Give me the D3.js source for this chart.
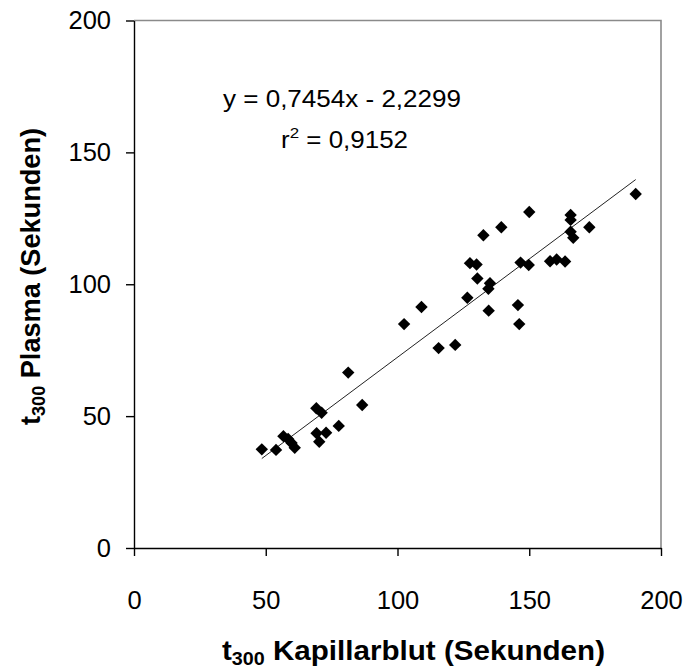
<!DOCTYPE html>
<html>
<head>
<meta charset="utf-8">
<script src="https://cdn.jsdelivr.net/npm/d3@7"></script>
<style>
  html, body { margin: 0; padding: 0; background: #fff; }
  svg { display: block; font-family: "Liberation Sans", Arial, sans-serif; }
</style>
</head>
<body>
<svg id="chart" width="686" height="671"></svg>
<script>
// t300 in capillary blood (x) vs plasma (y), seconds
const kapillarblut = [48.5, 53.9, 56.7, 58.5, 59.8, 61.0, 69.2, 71.2, 69.3, 72.9, 70.3, 77.7, 81.3, 86.6,
  102.5, 109.1, 115.6, 121.9, 126.5, 127.5, 130.0, 130.3, 132.6, 135.1, 134.5, 134.6, 139.4,
  145.7, 146.2, 146.7, 149.8, 150.0, 157.9, 160.4, 163.6, 165.7, 165.7, 165.7, 166.7, 172.8, 190.4];
const plasma = [37.4, 37.2, 42.4, 41.3, 39.8, 38.0, 53.0, 51.3, 43.5, 43.7, 40.3, 46.3, 66.5, 54.2,
  84.9, 91.4, 75.8, 77.0, 94.9, 108.0, 107.5, 102.2, 118.6, 100.4, 98.3, 90.0, 121.6,
  92.1, 84.9, 108.2, 107.3, 127.4, 108.7, 109.4, 108.6, 126.3, 124.4, 119.9, 117.6, 121.6, 134.2];

const xTicks = [0, 50, 100, 150, 200];
const yTicks = [0, 50, 100, 150, 200];
const slope = 0.7454, intercept = -2.2299;
const equationLabel = "y = 0,7454x - 2,2299";
const r2Label = "= 0,9152";

const svg = d3.select("#chart");
const plotLeft = 134, plotRight = 661, plotTop = 20.5, plotBottom = 548;

const x = d3.scaleLinear().domain([0, 200]).range([plotLeft, plotRight]);
const y = d3.scaleLinear().domain([0, 200]).range([plotBottom, plotTop]);

// plot area frame (top and right edges)
svg.append("path")
  .attr("d", `M${plotLeft},${plotTop}H${plotRight}V${plotBottom}`)
  .attr("fill", "none").attr("stroke", "#8a8a8a").attr("stroke-width", 1.6);

// axes
const xAxis = svg.append("g").attr("transform", `translate(0,${plotBottom})`)
  .call(d3.axisBottom(x).tickValues(xTicks).tickSize(8).tickPadding(35).tickSizeOuter(0));
const yAxis = svg.append("g").attr("transform", `translate(${plotLeft},0)`)
  .call(d3.axisLeft(y).tickValues(yTicks).tickSize(8).tickPadding(15).tickSizeOuter(0));

[xAxis, yAxis].forEach(g => {
  g.select(".domain").attr("stroke", "#000").attr("stroke-width", 1.4);
  g.selectAll(".tick line").attr("stroke", "#000").attr("stroke-width", 1.4);
  g.selectAll(".tick text").attr("fill", "#000")
    .style("font-family", "'Liberation Sans', Arial, sans-serif").style("font-size", "25.5px");
});

// regression line over the observed x range
const [xmin, xmax] = d3.extent(kapillarblut);
svg.append("line")
  .attr("x1", x(xmin)).attr("y1", y(slope * xmin + intercept))
  .attr("x2", x(xmax)).attr("y2", y(slope * xmax + intercept))
  .attr("stroke", "#222").attr("stroke-width", 1);

// diamond markers
const r = 6.2;
svg.append("g").selectAll("path")
  .data(d3.range(kapillarblut.length))
  .join("path")
  .attr("d", i => {
    const cx = x(kapillarblut[i]), cy = y(plasma[i]);
    return `M${cx},${cy - r}L${cx + r},${cy}L${cx},${cy + r}L${cx - r},${cy}Z`;
  })
  .attr("fill", "#000");

// regression equation
svg.append("text").attr("x", 223).attr("y", 107)
  .style("font-size", "23px").attr("textLength", 238).attr("lengthAdjust", "spacingAndGlyphs")
  .text(equationLabel);
const r2 = svg.append("text").attr("x", 281).attr("y", 148).style("font-size", "23px")
  .attr("textLength", 127).attr("lengthAdjust", "spacingAndGlyphs");
r2.append("tspan").text("r");
r2.append("tspan").attr("dy", -10).style("font-size", "15px").text("2");
r2.append("tspan").attr("dy", 10).text(" " + r2Label);

// axis titles
const xt = svg.append("text").attr("x", 222).attr("y", 660)
  .style("font-size", "27px").style("font-weight", "bold")
  .attr("textLength", 383).attr("lengthAdjust", "spacingAndGlyphs");
xt.append("tspan").text("t");
xt.append("tspan").attr("dy", 5).style("font-size", "18px").text("300");
xt.append("tspan").attr("dy", -5).text(" Kapillarblut (Sekunden)");

const yt = svg.append("text").attr("transform", `translate(40,425) rotate(-90)`)
  .style("font-size", "27px").style("font-weight", "bold")
  .attr("textLength", 297).attr("lengthAdjust", "spacingAndGlyphs");
yt.append("tspan").text("t");
yt.append("tspan").attr("dy", 5).style("font-size", "18px").text("300");
yt.append("tspan").attr("dy", -5).text(" Plasma (Sekunden)");
</script>
</body>
</html>
